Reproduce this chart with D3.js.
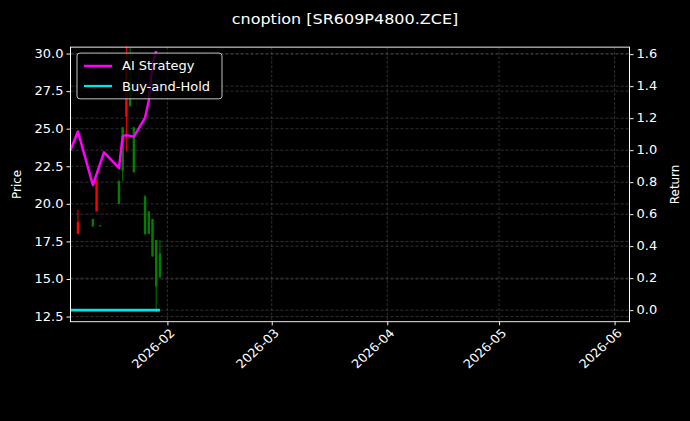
<!DOCTYPE html>
<html>
<head>
<meta charset="utf-8">
<script src="https://cdn.jsdelivr.net/npm/d3@7"></script>
<style>
  body { margin: 0; background: #000; }
  svg { display: block; }
  text { font-family: "DejaVu Sans", sans-serif; fill: #fff; }
</style>
</head>
<body>
<svg id="chart" width="690" height="421" viewBox="0 0 690 460" preserveAspectRatio="none"></svg>
<script>
// candles (date, open, high, low, close)
var candleDates = ['2026-01-08','2026-01-12','2026-01-13','2026-01-14','2026-01-19','2026-01-20','2026-01-21','2026-01-22','2026-01-23','2026-01-26','2026-01-27','2026-01-28','2026-01-29','2026-01-30'];
var candleOpen  = [18.8, 18.5, 21.5, 18.55, 20.0, 22.2, 29.6, 26.5, 22.1, 18.0, 18.0, 16.5, 14.5, 15.1];
var candleHigh  = [19.6, 19.0, 21.6, 18.6, 21.6, 25.1, 30.5, 30.4, 25.1, 20.6, 19.5, 19.0, 17.6, 17.6];
var candleLow   = [18.0, 18.5, 19.5, 18.5, 20.0, 21.5, 23.5, 26.5, 22.1, 17.9, 18.0, 16.5, 12.8, 15.1];
var candleClose = [18.0, 19.0, 19.5, 18.57, 21.5, 25.1, 25.8, 28.0, 25.1, 20.5, 19.5, 19.0, 17.6, 16.7];

var aiDates  = ['2026-01-06','2026-01-08','2026-01-12','2026-01-15','2026-01-19','2026-01-20','2026-01-21','2026-01-23','2026-01-26','2026-01-27','2026-01-28','2026-01-29'];
var aiReturn = [1.0, 1.117, 0.782, 0.987, 0.888, 1.088, 1.094, 1.084, 1.203, 1.308, 1.537, 1.62];

var bhDates  = ['2026-01-06','2026-01-30'];
var bhReturn = [0, 0];

var priceTicks  = [12.5, 15.0, 17.5, 20.0, 22.5, 25.0, 27.5, 30.0];
var returnTicks = [0.0, 0.2, 0.4, 0.6, 0.8, 1.0, 1.2, 1.4, 1.6];
var monthTicks  = ['2026-02-01','2026-03-01','2026-04-01','2026-05-01','2026-06-01'];

var parse = d3.utcParse('%Y-%m-%d');
var svg = d3.select('#chart');
var L = 70.5, R = 629.5, T = 51.5, B = 351.5;

var x = d3.scaleUtc().domain([parse('2026-01-06'), parse('2026-06-05')]).range([L, R]);
var yP = d3.scaleLinear().domain([12.16, 30.43]).range([B, T]);
var yR = d3.scaleLinear().domain([-0.072, 1.644]).range([B, T]);

svg.append('rect').attr('width', 690).attr('height', 460).attr('fill', '#000');

// grids
var grid = svg.append('g').attr('stroke', '#555').attr('stroke-width', 0.6).attr('stroke-dasharray', '3,2');
monthTicks.forEach(function(m){ grid.append('line').attr('x1', x(parse(m))).attr('x2', x(parse(m))).attr('y1', T).attr('y2', B); });
priceTicks.forEach(function(v){ grid.append('line').attr('x1', L).attr('x2', R).attr('y1', yP(v)).attr('y2', yP(v)); });
returnTicks.forEach(function(v){ grid.append('line').attr('x1', L).attr('x2', R).attr('y1', yR(v)).attr('y2', yR(v)); });

// candles
candleDates.forEach(function(d, i){
  var cx = x(parse(d));
  var up = candleClose[i] >= candleOpen[i];
  var col = up ? '#008000' : '#ff0000';
  svg.append('line').attr('x1', cx).attr('x2', cx).attr('y1', yP(candleHigh[i])).attr('y2', yP(candleLow[i])).attr('stroke', col).attr('stroke-width', 1);
  var top = yP(Math.max(candleOpen[i], candleClose[i])), bot = yP(Math.min(candleOpen[i], candleClose[i]));
  svg.append('rect').attr('x', cx - 1.2).attr('width', 2.4).attr('y', top).attr('height', Math.max(1, bot - top)).attr('fill', col);
});

// strategy lines
var line = d3.line().x(function(d){ return x(parse(d[0])); }).y(function(d){ return yR(d[1]); });
svg.append('path').attr('d', line(d3.zip(bhDates, bhReturn))).attr('fill', 'none').attr('stroke', '#00e5e5').attr('stroke-width', 3);
svg.append('path').attr('d', line(d3.zip(aiDates, aiReturn))).attr('fill', 'none').attr('stroke', '#ff00ff').attr('stroke-width', 2.5).attr('stroke-linejoin', 'round');

// axes
var ax = d3.axisBottom(x).tickValues(monthTicks.map(parse)).tickFormat(d3.utcFormat('%Y-%m')).tickSize(4).tickPadding(3);
var gx = svg.append('g').attr('transform', 'translate(0,' + B + ')').call(ax);
gx.selectAll('text').attr('font-size', 13).attr('text-anchor', 'end').attr('dx', '-0.3em').attr('dy', '0.6em').attr('transform', 'rotate(-45)');
var gl = svg.append('g').attr('transform', 'translate(' + L + ',0)').call(d3.axisLeft(yP).tickValues(priceTicks).tickFormat(d3.format('.1f')).tickSize(4).tickPadding(3));
var gr = svg.append('g').attr('transform', 'translate(' + R + ',0)').call(d3.axisRight(yR).tickValues(returnTicks).tickFormat(d3.format('.1f')).tickSize(4).tickPadding(3));
[gx, gl, gr].forEach(function(g){
  g.select('.domain').remove();
  g.selectAll('line').attr('stroke', '#fff');
  g.selectAll('text').attr('font-size', 13).style('font-family', 'DejaVu Sans').attr('fill', '#fff');
});
svg.append('rect').attr('x', L).attr('y', T).attr('width', R - L).attr('height', B - T).attr('fill', 'none').attr('stroke', '#fff').attr('stroke-width', 1);

svg.append('text').attr('x', 345).attr('y', 26).attr('text-anchor', 'middle').attr('font-size', 16).text('cnoption [SR609P4800.ZCE]');
svg.append('text').attr('transform', 'translate(21,' + ((T + B) / 2) + ') rotate(-90)').attr('text-anchor', 'middle').attr('font-size', 13).text('Price');
svg.append('text').attr('transform', 'translate(679,' + ((T + B) / 2) + ') rotate(-90)').attr('text-anchor', 'middle').attr('font-size', 13).text('Return');

// legend
var lg = svg.append('g').attr('transform', 'translate(77,58)');
lg.append('rect').attr('width', 145).attr('height', 50).attr('rx', 3).attr('fill', '#000').attr('fill-opacity', 0.8).attr('stroke', '#ccc');
[['AI Strategy', '#ff00ff'], ['Buy-and-Hold', '#00e5e5']].forEach(function(e, i){
  var yy = 14 + i * 22;
  lg.append('line').attr('x1', 7).attr('x2', 35).attr('y1', yy).attr('y2', yy).attr('stroke', e[1]).attr('stroke-width', 2.5);
  lg.append('text').attr('x', 45).attr('y', yy + 5).attr('font-size', 13).text(e[0]);
});
</script>
</body>
</html>
